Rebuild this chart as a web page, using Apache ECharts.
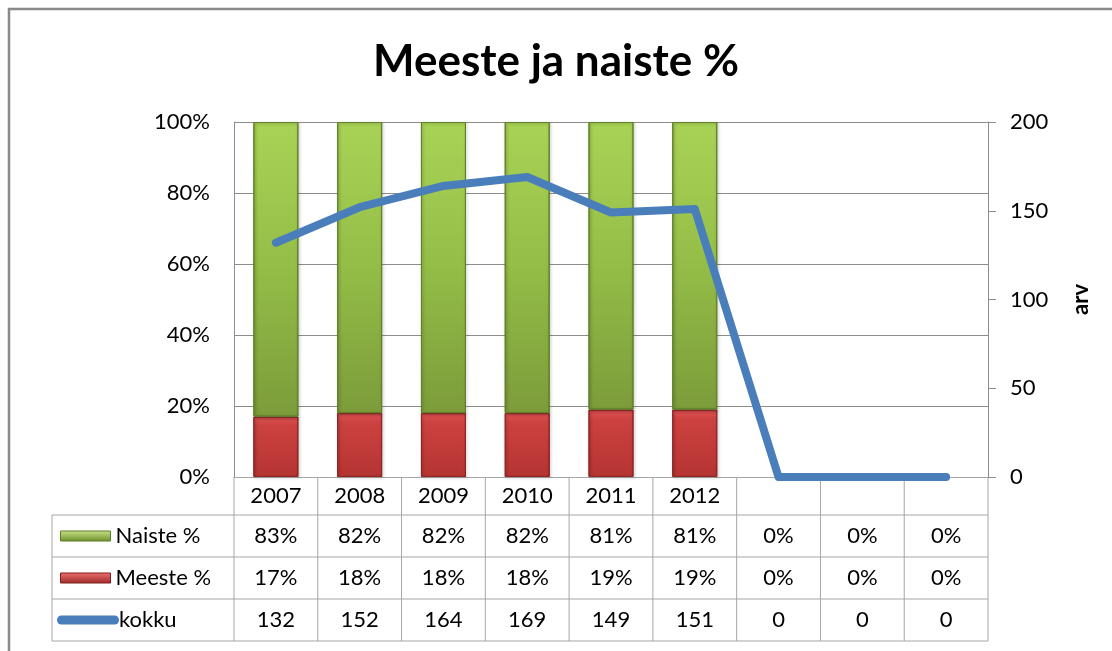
<!DOCTYPE html>
<html>
<head>
<meta charset="utf-8">
<script src="https://cdn.jsdelivr.net/npm/echarts@6/dist/echarts.min.js"></script>
<style>
html, body { margin: 0; padding: 0; background: #fff; }
#chart { width: 1112px; height: 651px; }
</style>
</head>
<body>
<div id="chart"></div>
<script>
// andmed
let years = ['2007', '2008', '2009', '2010', '2011', '2012', '', '', ''];
let naiste = [83, 82, 82, 82, 81, 81, 0, 0, 0];
let meeste = [17, 18, 18, 18, 19, 19, 0, 0, 0];
let kokku = [132, 152, 164, 169, 149, 151, 0, 0, 0];
let rowNames = ['Naiste %', 'Meeste %', 'kokku'];

let chartDom = document.getElementById('chart');
let myChart = echarts.init(chartDom);
let font = 'Lato, "Liberation Sans", sans-serif';
let fs = 22;
let gridCol = '#8c8c8c';
let tableCol = '#a6a6a6';

// tabeli read (y koordinaadid)
let plotBottom = 477;
let rowH = 42;
let headH = 38;
let tableLeft = 52;

let greenGrad = new echarts.graphic.LinearGradient(0, 0, 0, 1, [
    { offset: 0, color: '#a9d356' },
    { offset: 0.5, color: '#93bd47' },
    { offset: 1, color: '#7c9c3a' }
]);
let redGrad = new echarts.graphic.LinearGradient(0, 0, 0, 1, [
    { offset: 0, color: '#e05454' },
    { offset: 0.15, color: '#cc4240' },
    { offset: 1, color: '#b53432' }
]);
let greenIcon = new echarts.graphic.LinearGradient(0, 0, 0, 1, [
    { offset: 0, color: '#c8e58a' },
    { offset: 1, color: '#6d8d2c' }
]);
let redIcon = new echarts.graphic.LinearGradient(0, 0, 0, 1, [
    { offset: 0, color: '#f07070' },
    { offset: 1, color: '#9c2a29' }
]);

// nullväärtusega tulpi ei joonistata
function barData(arr) {
    return arr.map(function (v) { return v === 0 ? null : v; });
}

let option = {
    animation: false,
    backgroundColor: '#fff',
    textStyle: { fontFamily: font },
    title: {
        text: 'Meeste ja naiste %',
        left: 'center',
        top: 35,
        textStyle: { fontFamily: font, fontSize: 44, fontWeight: 'bold', color: '#000' }
    },
    legend: rowNames.map(function (n, i) {
        let item = { name: n, icon: 'rect' };
        if (n === 'kokku') {
            item.icon = 'path://M4,0 L52,0 A4,4 0 0 1 52,8 L4,8 A4,4 0 0 1 4,0 Z';
        } else {
            item.itemStyle = { color: n === 'Naiste %' ? greenIcon : redIcon, borderColor: n === 'Naiste %' ? '#5e7d24' : '#7f1f1e', borderWidth: 1 };
        }
        return {
            data: [item],
            left: n === 'kokku' ? 57 : 60,
            top: plotBottom + headH + rowH * i + rowH / 2 - 12,
            padding: 0,
            itemWidth: n === 'kokku' ? 62 : 50,
            itemHeight: 10,
            itemGap: 0,
            selectedMode: false,
            textStyle: { fontFamily: font, fontSize: fs, color: '#000', lineHeight: 24, padding: [0, 0, 0, n === 'kokku' ? -5 : 0] }
        };
    }),
    grid: { left: 234, right: 124, top: 122, bottom: 651 - plotBottom },
    xAxis: {
        type: 'category',
        data: years,
        axisLine: { show: true, lineStyle: { color: tableCol } },
        axisTick: { show: false },
        axisLabel: { show: false },
        splitLine: { show: false }
    },
    yAxis: [{
        type: 'value',
        min: 0,
        max: 100,
        interval: 20,
        axisLine: { show: true, lineStyle: { color: gridCol } },
        axisTick: { show: false },
        axisLabel: { formatter: '{value}%', fontFamily: font, fontSize: fs, color: '#000', margin: 24 },
        splitLine: { show: true, lineStyle: { color: gridCol } }
    }, {
        type: 'value',
        min: 0,
        max: 200,
        interval: 50,
        name: 'arv',
        nameLocation: 'middle',
        nameRotate: 90,
        nameGap: 82,
        nameTextStyle: { fontFamily: font, fontSize: fs, fontWeight: 'bold', color: '#000' },
        axisLine: { show: true, lineStyle: { color: gridCol } },
        axisTick: { show: true, length: 8, lineStyle: { color: gridCol } },
        axisLabel: { fontFamily: font, fontSize: fs, color: '#000', margin: 22 },
        splitLine: { show: false }
    }],
    series: [{
        name: 'Meeste %',
        type: 'bar',
        stack: 'p',
        barWidth: 45,
        data: barData(meeste),
        itemStyle: { color: redGrad, borderColor: '#8e2523', borderWidth: 1, shadowColor: 'rgba(0,0,0,0.3)', shadowBlur: 3, shadowOffsetX: 1, shadowOffsetY: 1 }
    }, {
        name: 'Naiste %',
        type: 'bar',
        stack: 'p',
        barWidth: 45,
        data: barData(naiste),
        itemStyle: { color: greenGrad, borderColor: '#61802a', borderWidth: 1, shadowColor: 'rgba(0,0,0,0.3)', shadowBlur: 3, shadowOffsetX: 1, shadowOffsetY: 1 }
    }, {
        name: 'kokku',
        type: 'line',
        yAxisIndex: 1,
        data: kokku,
        showSymbol: false,
        symbol: 'none',
        z: 5,
        color: '#4a7ebb',
        lineStyle: { color: '#4a7ebb', width: 8, cap: 'round', join: 'round' }
    }]
};

option && myChart.setOption(option);

// andmetabel graafiku all
let x0 = myChart.convertToPixel({ xAxisIndex: 0 }, 0);
let x1 = myChart.convertToPixel({ xAxisIndex: 0 }, 1);
let band = x1 - x0;
let tLeft = x0 - band / 2;
let tRight = tLeft + band * years.length;
let rowsTop = plotBottom + headH;
let tBottom = rowsTop + rowH * 3;
let els = [];

function hline(y, xa, xb) {
    els.push({ type: 'line', shape: { x1: xa, y1: y, x2: xb, y2: y }, style: { stroke: tableCol, lineWidth: 1 } });
}
function vline(x, ya, yb) {
    els.push({ type: 'line', shape: { x1: x, y1: ya, x2: x, y2: yb }, style: { stroke: tableCol, lineWidth: 1 } });
}
function cellText(txt, x, y) {
    els.push({ type: 'text', x: x, y: y, style: { text: txt, fill: '#000', font: fs + 'px ' + font, align: 'center', verticalAlign: 'middle' } });
}

for (let r = 0; r <= 3; r++) {
    hline(rowsTop + rowH * r, tableLeft, tRight);
}
vline(tableLeft, rowsTop, tBottom);
for (let c = 0; c <= years.length; c++) {
    vline(tLeft + band * c, plotBottom, tBottom);
}
let rows = [
    naiste.map(function (v) { return v + '%'; }),
    meeste.map(function (v) { return v + '%'; }),
    kokku.map(function (v) { return String(v); })
];
years.forEach(function (y, i) {
    let cx = myChart.convertToPixel({ xAxisIndex: 0 }, i);
    cellText(y, cx, plotBottom + headH / 2);
    rows.forEach(function (row, r) {
        cellText(row[i], cx, rowsTop + rowH * r + rowH / 2);
    });
});
// välisraam
els.push({ type: 'polyline', shape: { points: [[9, 660], [9, 9], [1120, 9]] }, style: { stroke: '#898989', lineWidth: 2.5, fill: null } });

myChart.setOption({ graphic: els });
</script>
</body>
</html>
